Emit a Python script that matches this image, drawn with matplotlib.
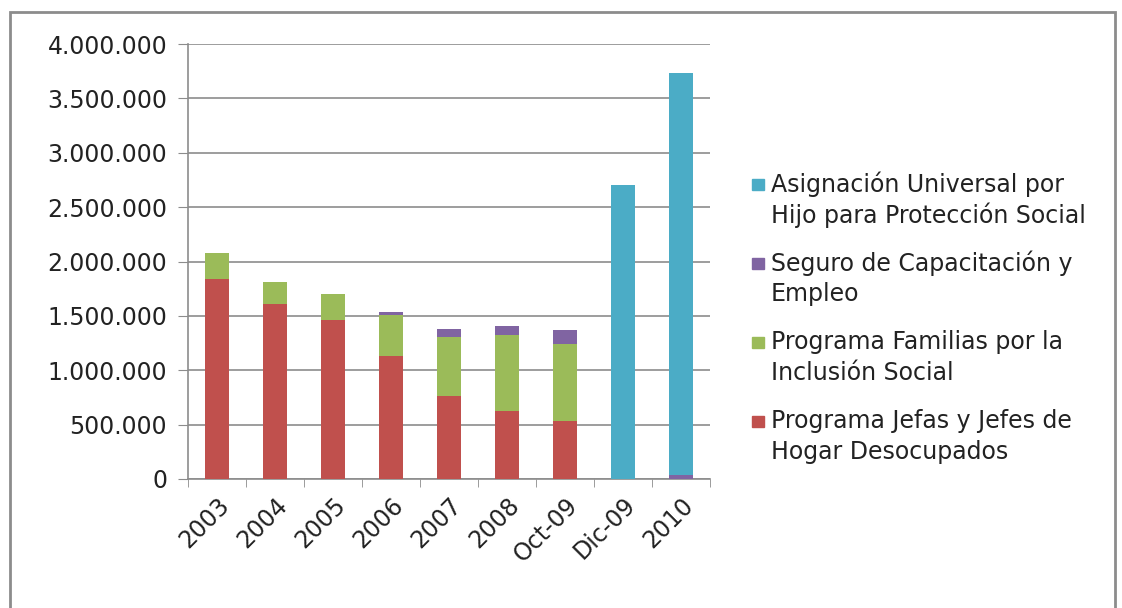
import numpy as np
import matplotlib
matplotlib.use("Agg")
import matplotlib.pyplot as plt
from matplotlib.patches import Rectangle
from matplotlib.ticker import FuncFormatter

periodos = ["2003", "2004", "2005", "2006", "2007", "2008", "Oct-09", "Dic-09", "2010"]
jefas    = [1836000, 1609000, 1462000, 1134000, 763000, 625000, 536000, 0, 0]
familias = [239000, 205000, 238000, 371000, 546000, 702000, 705000, 0, 0]
seguro   = [0, 0, 0, 28000, 73000, 80000, 129000, 0, 40000]
auh      = [0, 0, 0, 0, 0, 0, 0, 2700000, 3690000]

series = [
    ("Programa Jefas y Jefes de\nHogar Desocupados", jefas, "#C0504D"),
    ("Programa Familias por la\nInclusión Social", familias, "#9BBB59"),
    ("Seguro de Capacitación y\nEmpleo", seguro, "#8064A2"),
    ("Asignación Universal por\nHijo para Protección Social", auh, "#4BACC6"),
]

plt.rcParams["font.family"] = ["DejaVu Sans"]
W, H = 1122, 608
FS = 17

fig = plt.figure(figsize=(W / 100, H / 100), dpi=100)
fig.patch.set_facecolor("white")
ax = fig.add_axes([188 / W, 1 - 479 / H, 522 / W, 435 / H])

x = np.arange(len(periodos))
bottom = np.zeros(len(periodos))
for label, vals, color in series:
    vals = np.array(vals, dtype=float)
    ax.bar(x, vals, width=0.4, bottom=bottom, color=color, label=label, zorder=3)
    bottom += vals

ax.set_xlim(-0.5, len(periodos) - 0.5)
ax.set_ylim(0, 4000000)
ax.set_yticks(np.arange(0, 4000001, 500000))
ax.yaxis.set_major_formatter(FuncFormatter(lambda v, p: f"{int(v):,}".replace(",", ".")))
ax.grid(axis="y", color="#8c8c8c", linewidth=1.2, zorder=0)

ax.set_xticks(x)
ax.set_xticklabels(periodos, rotation=45, ha="right", rotation_mode="anchor")
ax.set_xticks(np.arange(-0.5, len(periodos), 1), minor=True)
ax.tick_params(axis="x", which="major", length=0, pad=10, labelsize=FS, colors="#222222")
ax.tick_params(axis="x", which="minor", length=6, color="#8c8c8c", direction="out")
ax.tick_params(axis="y", length=7, color="#8c8c8c", labelsize=FS, pad=8, labelcolor="#222222")

for s in ["top", "right"]:
    ax.spines[s].set_visible(False)
for s in ["left", "bottom"]:
    ax.spines[s].set_color("#8c8c8c")
    ax.spines[s].set_linewidth(1.2)

# leyenda a mano: el cuadrado va alineado con la primera línea, como en Excel
y0, paso, interlinea = 184, 79, 31
for i, (label, vals, color) in enumerate(series[::-1]):
    yc = y0 + i * paso
    fig.patches.append(Rectangle((752 / W, 1 - (yc + 6) / H), 12 / W, 11 / H,
                                 transform=fig.transFigure, color=color))
    for j, linea in enumerate(label.split("\n")):
        fig.text(771 / W, 1 - (yc + j * interlinea) / H, linea, fontsize=FS,
                 color="#222222", va="center", ha="left")

fig.patches.append(Rectangle((0.009, -0.01), 0.985, 0.99, transform=fig.transFigure,
                             fill=False, edgecolor="#8c8c8c", linewidth=2))

fig.savefig("out.png", dpi=100, facecolor="white")
